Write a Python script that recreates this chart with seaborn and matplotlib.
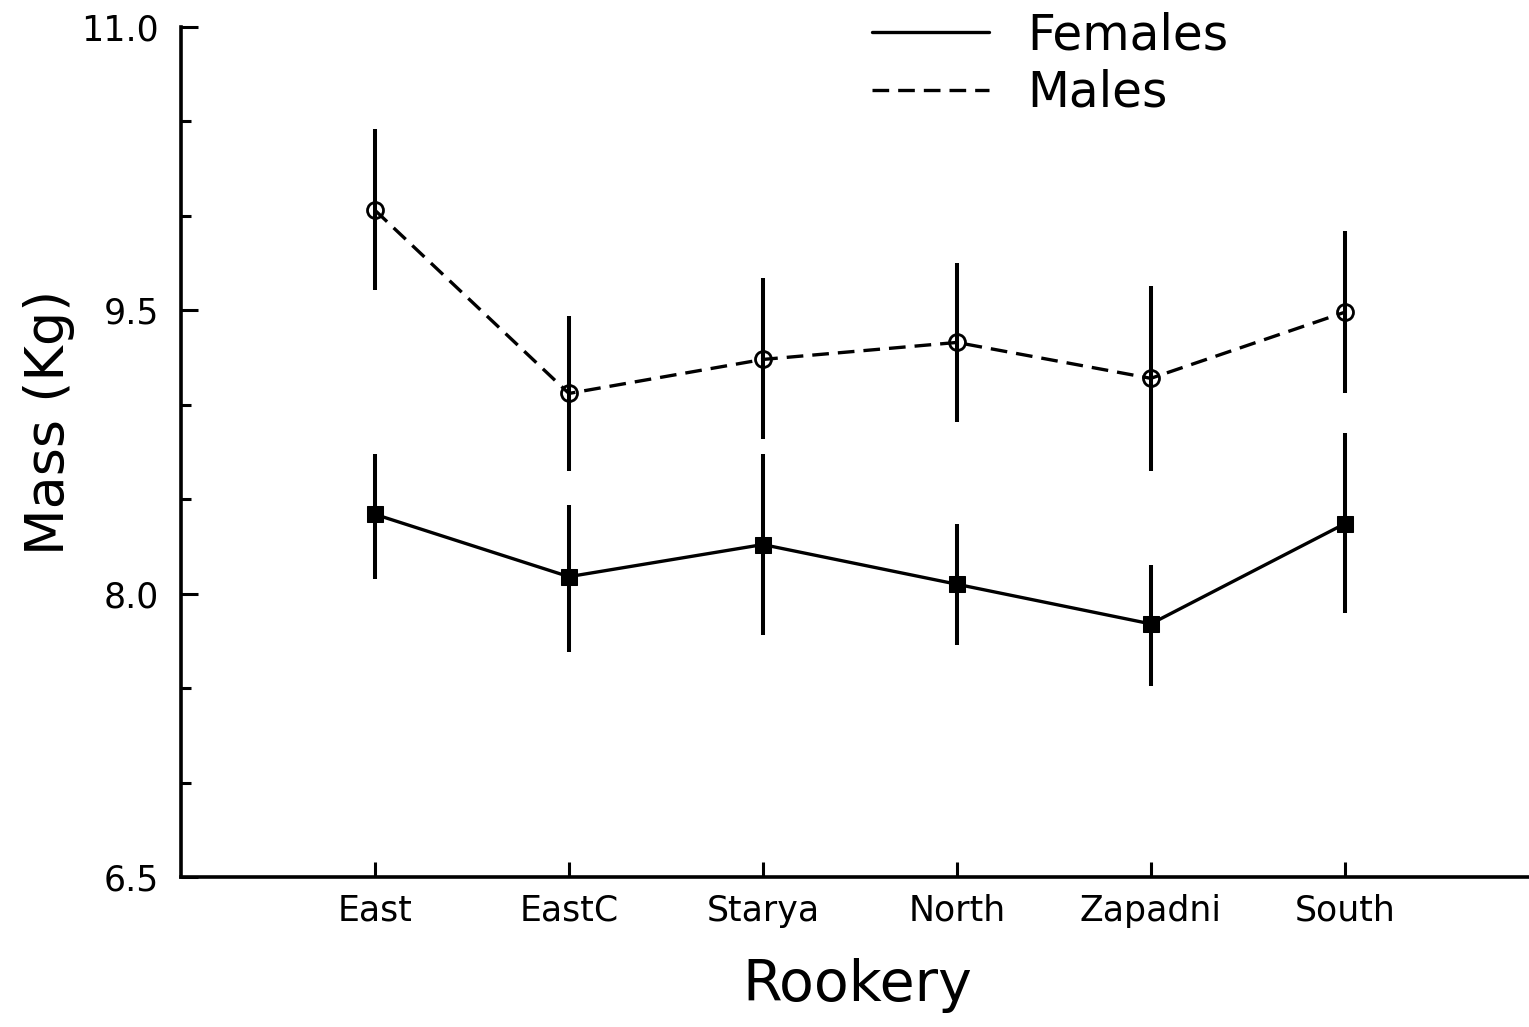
import matplotlib
matplotlib.use("Agg")
import matplotlib.pyplot as plt
import seaborn as sns
import pandas as pd
from matplotlib.lines import Line2D

# ---- data ----
rookeries = ["East", "EastC", "Starya", "North", "Zapadni", "South"]
female_mass = [8.42, 8.09, 8.26, 8.05, 7.84, 8.37]
female_low = [8.08, 7.69, 7.78, 7.73, 7.51, 7.90]
female_high = [8.74, 8.47, 8.74, 8.37, 8.15, 8.85]
male_mass = [10.03, 9.06, 9.24, 9.33, 9.14, 9.49]
male_low = [9.61, 8.65, 8.82, 8.91, 8.65, 9.06]
male_high = [10.46, 9.47, 9.67, 9.75, 9.63, 9.92]
y_major = [6.5, 8.0, 9.5, 11.0]
y_major_labels = ["6.5", "8.0", "9.5", "11.0"]
y_minor = [7.0, 7.5, 8.5, 9.0, 10.0, 10.5]
legend_labels = ["Females", "Males"]

sns.set_style("ticks")
plt.rcParams['font.family'] = ['DejaVu Sans']
plt.rcParams['text.color'] = 'black'
plt.rcParams['axes.labelcolor'] = 'black'
plt.rcParams['xtick.color'] = 'black'
plt.rcParams['ytick.color'] = 'black'

fem = pd.DataFrame({"Rookery": rookeries, "Mass": female_mass})
mal = pd.DataFrame({"Rookery": rookeries, "Mass": male_mass})

W, H = 1529, 1027
fig = plt.figure(figsize=(W / 100, H / 100), dpi=100)
fig.patch.set_facecolor("white")
ax = fig.add_axes([181 / W, 1 - 877 / H, 1 - 181 / W, (877 - 27) / H])
ax.set_facecolor("white")

dash = (0, (5, 2.7))

sns.lineplot(data=fem, x="Rookery", y="Mass", ax=ax, sort=False, color="black",
             lw=2.4, marker="s", ms=12, mfc="black", mec="black", zorder=3)
sns.lineplot(data=mal, x="Rookery", y="Mass", ax=ax, sort=False, color="black",
             lw=2.4, linestyle=dash, marker="o", ms=11.5, mfc="none", mec="black",
             mew=2.0, zorder=3)

# error bars
ax.vlines(rookeries, female_low, female_high, color="black", lw=2.9, zorder=2)
ax.vlines(rookeries, male_low, male_high, color="black", lw=2.9, zorder=2)

ax.set_xlim(-1, 5.95)
ax.set_ylim(6.5, 11.0)

ax.set_yticks(y_major)
ax.set_yticklabels(y_major_labels)
ax.set_yticks(y_minor, minor=True)

for s in ["top", "right"]:
    ax.spines[s].set_visible(False)
for s in ["left", "bottom"]:
    ax.spines[s].set_linewidth(2.6)
    ax.spines[s].set_color("black")

ax.tick_params(axis="y", which="major", direction="in", length=12, width=2.2,
               labelsize=25, pad=16, colors="black")
ax.tick_params(axis="y", which="minor", direction="in", length=7, width=2.2)
ax.tick_params(axis="x", which="major", direction="in", length=11, width=2.2,
               labelsize=25, pad=12, colors="black")

ax.set_xlabel("Rookery", fontsize=41, color="black")
ax.xaxis.set_label_coords(0.5015, -0.095)
ax.set_ylabel("Mass (Kg)", fontsize=39, color="black")
ax.yaxis.set_label_coords(-0.079, 0.535)

if ax.get_legend() is not None:
    ax.get_legend().remove()

handles = [Line2D([], [], color="black", lw=2.4),
           Line2D([], [], color="black", lw=2.4, linestyle=dash)]
fig.legend(handles=handles, labels=legend_labels, loc="upper left",
           bbox_to_anchor=(872 / W, 1 - 11 / H), frameon=False, fontsize=35,
           handlelength=2.4, handletextpad=0.8, borderpad=0, borderaxespad=0,
           labelspacing=0.2, labelcolor="black")

fig.savefig("out.png", dpi=100, facecolor="white")
